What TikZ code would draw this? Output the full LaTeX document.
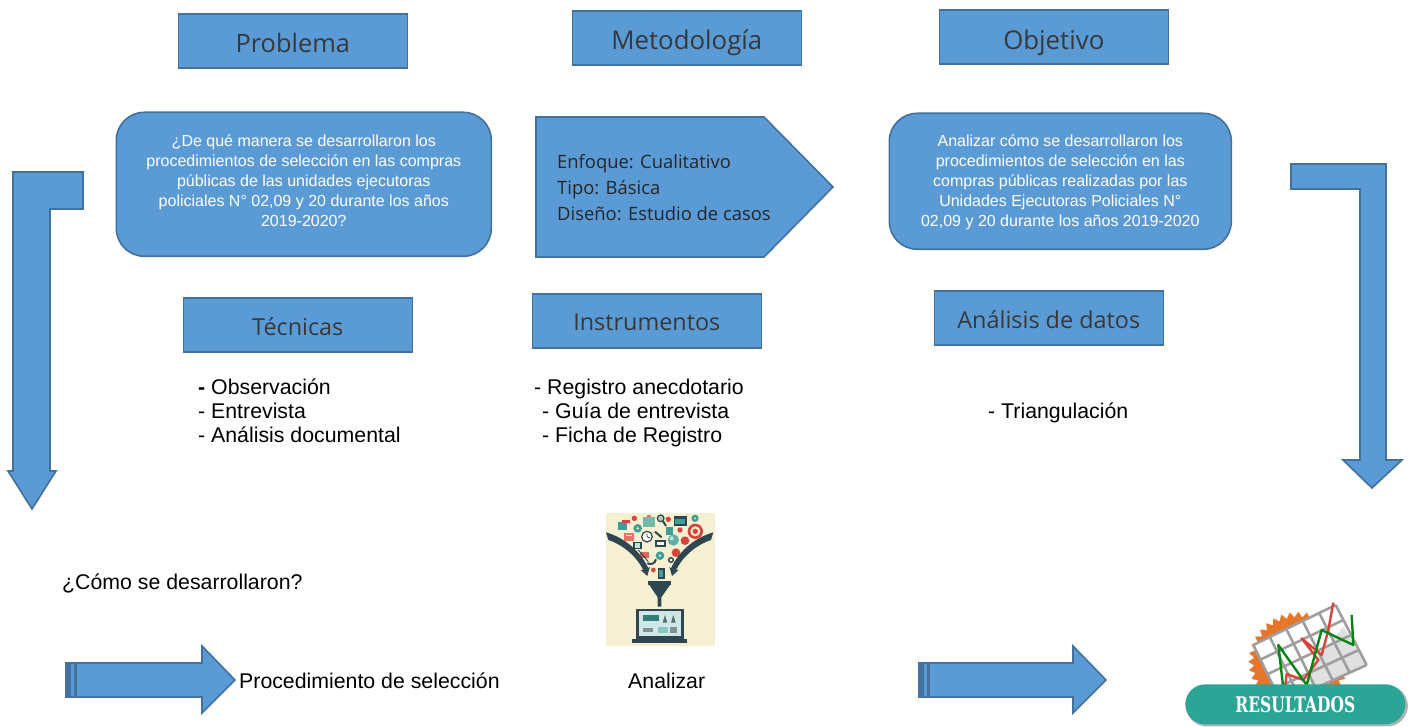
\documentclass[tikz,border=0pt]{standalone}
\usepackage{fontspec}
\usepackage{graphicx}
\setmainfont{Liberation Sans}
\newfontfamily\hd{Open Sans}
\newfontfamily\rs{DejaVu Serif}
\usetikzlibrary{calc,shapes.geometric}
\definecolor{fillb}{HTML}{5B9BD5}
\definecolor{lineb}{HTML}{41719C}
\definecolor{bandb}{HTML}{4472A0}
\definecolor{imgbg}{HTML}{F5F0D2}
\definecolor{dk}{HTML}{2F4650}
\definecolor{tl}{HTML}{3F9E9A}
\definecolor{rd}{HTML}{D8433C}
\definecolor{og}{HTML}{E5762A}
\definecolor{teal}{HTML}{2BA595}
\tikzset{
 x=1pt,y=-1pt,
 shp/.style={fill=fillb,draw=lineb,line width=1.6pt,line join=miter},
 titlebox/.style={shp,minimum width=229pt,minimum height=54pt,inner sep=0pt,anchor=north west},
 titletxt/.style={inner sep=0pt,text=black!78,font=\hd\fontsize{#1}{28}\selectfont},
 rbox/.style={shp,rounded corners=28pt,anchor=north west,inner sep=0pt},
 rtxt/.style={inner sep=0pt,align=center,text=white,font=\fontsize{16}{20}\selectfont},
 body/.style={anchor=north west,inner sep=0pt,align=left,font=\fontsize{21.3}{24}\selectfont,text=black},
 lone/.style={anchor=west,inner sep=0pt,font=\fontsize{21.3}{24}\selectfont,text=black},
}
\begin{document}
\begin{tikzpicture}
\useasboundingbox (0,0) rectangle (1414,727);
% titles
\node[titlebox] (problema) at (177.5,13.5) {};
\node[titletxt=25.4] (problemat) at ($(problema.center)+(0,2)$) {Problema};
\node[titlebox] (metodologia) at (571.5,10.5) {};
\node[titletxt=25.8] (metodologiat) at ($(metodologia.center)+(0,4.5)$) {Metodología};
\node[titlebox] (objetivo) at (938.5,9.5) {};
\node[titletxt=25.8] (objetivot) at ($(objetivo.center)+(0,6)$) {Objetivo};
\node[titlebox] (tecnicas) at (182.5,297.5) {};
\node[titletxt=23.4] (tecnicast) at ($(tecnicas.center)+(0,1)$) {Técnicas};
\node[titlebox] (instrumentos) at (531.5,293.5) {};
\node[titletxt=23.4] (instrumentost) at ($(instrumentos.center)+(0,0.5)$) {Instrumentos};
\node[titlebox] (analisis) at (933.5,290.5) {};
\node[titletxt=23.4] (analisist) at ($(analisis.center)+(0,1.5)$) {Análisis de datos};
% rounded boxes
\node[rbox,minimum width=375pt,minimum height=144pt] (pregunta) at (115.5,111.5) {};
\node[rtxt] (preguntat) at ($(pregunta.center)+(0,-4)$) {¿De qué manera se desarrollaron los\\procedimientos de selección en las compras\\públicas de las unidades ejecutoras\\policiales N° 02,09 y 20 durante los años\\2019-2020?};
\node[rbox,minimum width=342pt,minimum height=136pt] (obj) at (888.5,112.5) {};
\node[rtxt] (objt) at ($(obj.center)+(0,1)$) {Analizar cómo se desarrollaron los\\procedimientos de selección en las\\compras públicas realizadas por las\\Unidades Ejecutoras Policiales N°\\02,09 y 20 durante los años 2019-2020};
% pentagon
\draw[shp] (536,117) -- (764,117) -- (833,187) -- (764,257) -- (536,257) -- cycle;
\node[anchor=north west,inner sep=0pt,align=left,text=black!85,font=\hd\fontsize{18.4}{26}\selectfont] (enfoque) at (557,154) {Enfoque: Cualitativo\\Tipo: Básica\\Diseño: Estudio de casos};
% lists
\node[body] (l1) at (198,379) {\textbf{-} Observación\\- Entrevista\\- Análisis documental};
\node[body] (l2) at (534,379) {- Registro anecdotario\\\hspace*{8pt}- Guía de entrevista\\\hspace*{8pt}- Ficha de Registro};
\node[lone] (l3) at (988,412.5) {- Triangulación};
\node[lone] (como) at (62,583) {¿Cómo se desarrollaron?};
\node[lone] (proc) at (239,681) {Procedimiento de selección};
\node[lone] (anal) at (628,681) {Analizar};
% bent arrows
\draw[shp] (13,172) -- (83,172) -- (83,209) -- (50,209) -- (50,471) -- (56,471) -- (32,509) -- (8,471) -- (13,471) -- cycle;
\draw[shp] (1291,164) -- (1386,164) -- (1386,460) -- (1402,460) -- (1372,488) -- (1343,460) -- (1360,460) -- (1360,189) -- (1291,189) -- cycle;
% straight arrows
\draw[shp] (66,663) -- (202,663) -- (202,646) -- (235,680) -- (202,713) -- (202,697) -- (66,697) -- cycle;
\fill[bandb] (65,663) rectangle (71,697);
\fill[bandb] (74,663) rectangle (77,697);
\draw[shp] (919,663) -- (1073,663) -- (1073,646) -- (1106,680) -- (1073,713) -- (1073,697) -- (919,697) -- cycle;
\fill[bandb] (918,663) rectangle (924,697);
\fill[bandb] (927,663) rectangle (930,697);
% funnel image
\fill[imgbg] (606,513) rectangle (715,646);
\begin{scope}[shift={(590,500)},x=0.3333pt,y=-0.3333pt]
 % icons
 \fill[tl] (83,65) rectangle (112,90); \fill[rd] (95,60) rectangle (120,68);
 \fill[rd] (133,55) circle (8);
 \fill[tl] (143,85) circle (13); \fill[imgbg] (143,85) circle (4);
 \fill[tl!70!imgbg] (160,50) rectangle (194,80); \fill[rd!70!imgbg] (172,44) rectangle (182,50);
 \draw[dk,line width=1.2pt,fill=tl!40!imgbg] (212,55) circle (10); \draw[dk,line width=2pt] (218,62) -- (228,78);
 \fill[rd] (235,58) circle (8);
 \fill[dk] (252,48) rectangle (290,78); \fill[tl] (256,56) rectangle (286,72);
 \fill[tl] (315,55) circle (11); \fill[imgbg] (315,55) circle (3);
 \fill[rd] (316,94) circle (23); \fill[imgbg] (316,94) circle (15); \fill[rd] (316,94) circle (8);
 \fill[rd!70!imgbg] (102,98) rectangle (132,122); \fill[imgbg] (107,104) rectangle (127,108);
 \draw[dk,line width=1.2pt,fill=white] (171,110) circle (16);
 \draw[dk,line width=.8pt] (171,110) -- (171,100) (171,110) -- (180,114);
 \draw[dk,line width=2pt] (195,95) -- (215,112);
 \fill[tl] (228,80) rectangle (248,105);
 \fill[rd] (270,90) circle (8);
 \fill[tl!80!imgbg] (250,120) circle (17); \fill[white!70!tl] (245,115) circle (6);
 \fill[rd] (285,122) circle (13);
 \fill[dk] (130,125) rectangle (155,148); \fill[white!70!tl] (134,130) rectangle (151,144);
 \fill[dk] (195,120) rectangle (228,142); \fill[white] (202,126) rectangle (222,136);
 \fill[rd!80!imgbg] (150,155) rectangle (178,175); \draw[dk,line width=1pt] (145,150) -- (175,185);
 \fill[tl] (210,167) circle (13); \fill[imgbg] (210,167) circle (4);
 \fill[rd] (258,158) circle (13);
 \draw[dk,line width=2pt] (172,190) .. controls (185,195) and (195,190) .. (198,178);
 \draw[dk,line width=1.4pt] (243,180) circle (7);
 \fill[rd] (190,210) circle (7);
 \fill[dk] (204,203) rectangle (224,238); \fill[tl] (208,209) rectangle (220,232);
 % big arrows
 \fill[dk] (48,97) .. controls (110,115) and (155,160) .. (175,205) -- (180,200) -- (172,228) -- (152,210) -- (160,210) .. controls (140,170) and (100,135) .. (55,120) -- cycle;
 \fill[dk] (370,97) .. controls (308,115) and (263,160) .. (243,205) -- (238,200) -- (246,228) -- (266,210) -- (258,210) .. controls (278,170) and (318,135) .. (363,120) -- cycle;
 % funnel
 \fill[dk] (175,243) rectangle (243,255);
 \fill[dk] (178,255) -- (240,255) -- (214,292) -- (214,320) -- (203,320) -- (203,292) -- cycle;
 % laptop
 \fill[dk] (137,326) rectangle (281,416);
 \fill[white!75!tl] (146,334) rectangle (272,408);
 \fill[dk] (126,417) rectangle (291,428);
 \fill[tl!80!black] (158,345) rectangle (208,362);
 \fill[dk!80!white] (225,345) -- (232,368) -- (218,368) -- cycle;
 \fill[dk!80!white] (250,345) -- (257,368) -- (243,368) -- cycle;
 \fill[dk!60!white] (160,385) rectangle (190,397);
 \fill[tl!60!white] (205,382) rectangle (235,398);
 \fill[dk!60!white] (240,380) rectangle (262,398);
\end{scope}
% resultados
\begin{scope}[shift={(1170,590)},x=0.3333pt,y=-0.3333pt]
 \fill[og] (385+150,215)
  \foreach \k in {1,...,71} { -- ({385+(isodd(\k)?133:150)*cos(\k*5)},{215-(isodd(\k)?133:150)*sin(\k*5)}) } -- cycle;
 \coordinate (A) at (250,165); \coordinate (B) at (497,45);
 \coordinate (C) at (590,225); \coordinate (D) at (335,340);
 \fill[white] (A) -- (B) -- (C) -- (D) -- cycle;
 \fill[black!12] (440,210) -- (520,110) -- (590,225) -- (400,310) -- cycle;
 \foreach \t in {0,0.2,0.4,0.6,0.8,1}
  \draw[black!38,line width=2.6pt] ($(A)!\t!(B)$) -- ($(D)!\t!(C)$);
 \foreach \t in {0,0.25,0.5,0.75,1}
  \draw[black!38,line width=2.6pt] ($(A)!\t!(D)$) -- ($(B)!\t!(C)$);
 \draw[rd,line width=2.4pt,line join=round] (345,295) -- (350,252) -- (400,270) -- (445,210) -- (395,145) -- (455,195) -- (475,120) -- (490,38);
 \draw[green!50!black!85!teal,line width=2.4pt,line join=round] (340,295) -- (325,165) -- (410,285) -- (455,120) -- (550,165) -- (545,75);
 \node[draw=none,fill=black!55,opacity=.55,rounded corners=21pt,minimum width=222pt,minimum height=41pt,inner sep=0pt] (shade) at (381,348) {};
 \node[fill=teal,rounded corners=20pt,minimum width=220pt,minimum height=40pt,inner sep=0pt,text=white,font=\rs\bfseries\fontsize{21.5}{24}\selectfont] (pill) at (376,343) {\scalebox{0.72}[1]{RESULTADOS}};
\end{scope}
\end{tikzpicture}
\end{document}
